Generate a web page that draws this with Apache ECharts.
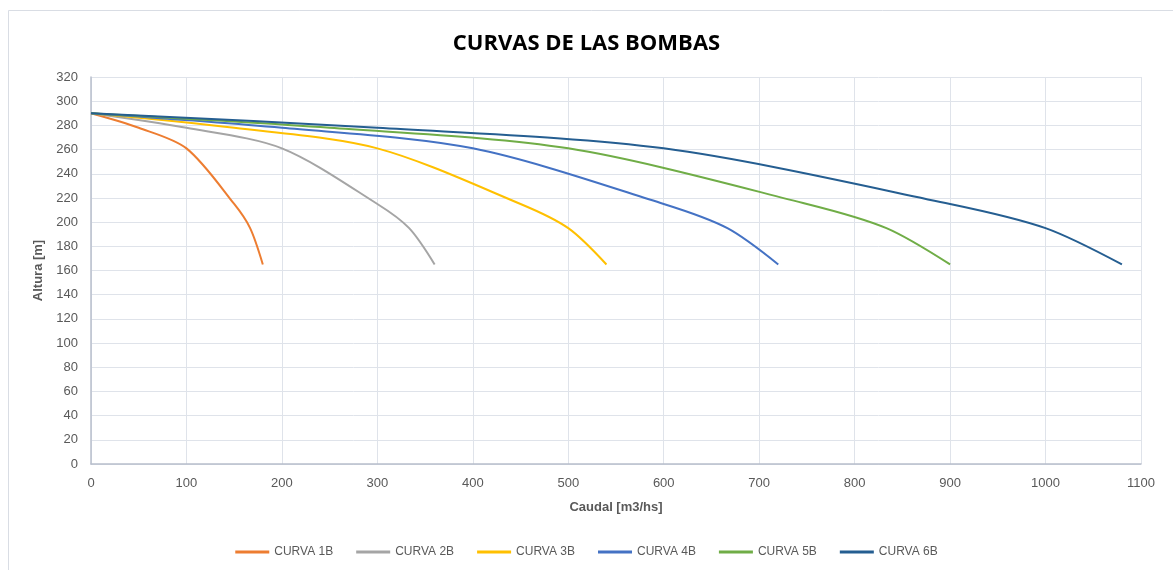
<!DOCTYPE html>
<html>
<head>
<meta charset="utf-8">
<script src="https://cdn.jsdelivr.net/npm/echarts@6/dist/echarts.min.js"></script>
<style>
  html, body { margin: 0; padding: 0; background: #fff; }
  #chart { width: 1173px; height: 570px; }
</style>
</head>
<body>
<div id="chart"></div>
<script>
// caudal [m3/hs] de cada curva (1 a 6 bombas en paralelo)
const caudal1B = [0, 50, 100, 150, 166.7, 180]
const caudal2B = [0, 100, 200, 300, 333.3, 360]
const caudal3B = [0, 150, 300, 450, 500, 540]
const caudal4B = [0, 200, 400, 600, 666.7, 720]
const caudal5B = [0, 250, 500, 750, 833.3, 900]
const caudal6B = [0, 300, 600, 900, 1000, 1080]
// altura [m] en cada punto (igual para todas las curvas)
const altura = [290, 278, 261, 215, 195, 165]

const nombres = ['CURVA 1B', 'CURVA 2B', 'CURVA 3B', 'CURVA 4B', 'CURVA 5B', 'CURVA 6B']
const caudales = [caudal1B, caudal2B, caudal3B, caudal4B, caudal5B, caudal6B]
const colores = ['#ED7D31', '#A5A5A5', '#FFC000', '#4472C4', '#70AD47', '#255E91']

const fuente = '"Liberation Sans", Arial, sans-serif'
const gris = '#595959'

const chart = echarts.init(document.getElementById('chart'))

const option = {
  animation: false,
  backgroundColor: '#fff',
  graphic: [{
    type: 'rect',
    shape: { x: 8.5, y: 10.5, width: 1200, height: 600 },
    style: { fill: 'none', stroke: '#d9dde4', lineWidth: 1 },
    silent: true
  }],
  title: {
    text: 'CURVAS DE LAS BOMBAS',
    left: 'center',
    top: 28,
    textStyle: { fontFamily: '"Open Sans", sans-serif', fontWeight: 'bold', fontSize: 22, color: '#000' }
  },
  legend: {
    data: nombres,
    top: 541,
    left: 'center',
    icon: 'rect',
    itemWidth: 34,
    itemHeight: 3,
    itemGap: 23,
    textStyle: { fontFamily: fuente, fontSize: 12, color: gris }
  },
  grid: { left: 91, right: 32, top: 77, bottom: 106, containLabel: false },
  xAxis: {
    type: 'value',
    min: 0,
    max: 1100,
    interval: 100,
    name: 'Caudal [m3/hs]',
    nameLocation: 'middle',
    nameGap: 37,
    nameTextStyle: { fontFamily: fuente, fontWeight: 'bold', fontSize: 13, color: gris },
    axisLine: { lineStyle: { color: '#b8bfcc', width: 1.5 } },
    axisTick: { show: false },
    axisLabel: { fontFamily: fuente, fontSize: 13, color: gris, margin: 13, formatter: v => String(v) },
    splitLine: { show: true, lineStyle: { color: '#dfe3ea', width: 1 } }
  },
  yAxis: {
    type: 'value',
    min: 0,
    max: 320,
    interval: 20,
    name: 'Altura [m]',
    nameLocation: 'middle',
    nameGap: 45,
    nameTextStyle: { fontFamily: fuente, fontWeight: 'bold', fontSize: 13, color: gris },
    axisLine: { show: true, lineStyle: { color: '#b8bfcc', width: 1.5 } },
    axisTick: { show: false },
    axisLabel: { fontFamily: fuente, fontSize: 13, color: gris, margin: 13 },
    splitLine: { show: true, lineStyle: { color: '#dfe3ea', width: 1 } }
  },
  series: nombres.map((n, i) => ({
    name: n,
    type: 'line',
    data: caudales[i].map((q, j) => [q, altura[j]]),
    smooth: 0.3,
    symbol: 'none',
    lineStyle: { color: colores[i], width: 2 },
    itemStyle: { color: colores[i] },
    z: 2 + i
  }))
}

chart.setOption(option)
</script>
</body>
</html>
